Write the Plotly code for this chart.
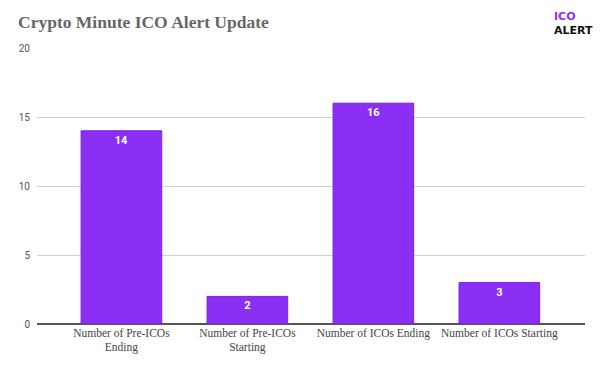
import plotly.graph_objects as go

categories = ["Number of Pre-ICOs<br>Ending", "Number of Pre-ICOs<br>Starting",
              "Number of ICOs Ending", "Number of ICOs Starting"]
values = [14, 2, 16, 3]
y_ticks = [0, 5, 10, 15, 20]

fig = go.Figure()
fig.add_trace(go.Bar(
    x=list(range(len(categories))), y=values,
    width=0.64,
    marker=dict(color="#8C2FF4", line=dict(color="#7A1FE3", width=1)),
    text=[str(v) for v in values], textposition="inside", insidetextanchor="end",
    textfont=dict(family="Roboto", size=11, color="white", weight="bold"),
    cliponaxis=False,
))

fig.update_layout(
    width=600, height=367,
    margin=dict(l=37, r=15, t=48, b=43, autoexpand=False),
    paper_bgcolor="white", plot_bgcolor="white",
    showlegend=False,
    xaxis=dict(range=[-0.67, 3.68], tickmode="array", tickvals=list(range(len(categories))),
               ticktext=categories, showgrid=False, zeroline=False, showline=False,
               tickfont=dict(family="Liberation Serif", size=11.5, color="#444444"),
               ticks="", automargin=False),
    yaxis=dict(range=[0, 20], tickvals=y_ticks, showgrid=True, gridcolor="#d0d0d0", gridwidth=1,
               zeroline=True, zerolinecolor="#555555", zerolinewidth=1.5,
               tickfont=dict(family="Roboto", size=10, color="#555555"), ticks="",
               ticklabelstandoff=6, automargin=False),
)

fig.add_annotation(xref="paper", yref="paper", x=(16-37)/548, y=1+(48-22)/276,
                   xanchor="left", yanchor="middle", showarrow=False,
                   text="<b>Crypto Minute ICO Alert Update</b>",
                   font=dict(family="Liberation Serif", size=17.5, color="#666666"))
fig.add_annotation(xref="paper", yref="paper", x=(552-37)/548, y=1+(48-17)/276,
                   xanchor="left", yanchor="middle", showarrow=False,
                   text="<b>ICO</b>", font=dict(family="DejaVu Sans", size=11, color="#8C2FF4"))
fig.add_annotation(xref="paper", yref="paper", x=(552-37)/548, y=1+(48-31)/276,
                   xanchor="left", yanchor="middle", showarrow=False,
                   text="<b>ALERT</b>", font=dict(family="DejaVu Sans", size=11, color="#111111"))

fig.write_html("out.html", config={"displayModeBar": False},
               post_script="document.body.style.margin='0';document.body.style.overflow='hidden';")
